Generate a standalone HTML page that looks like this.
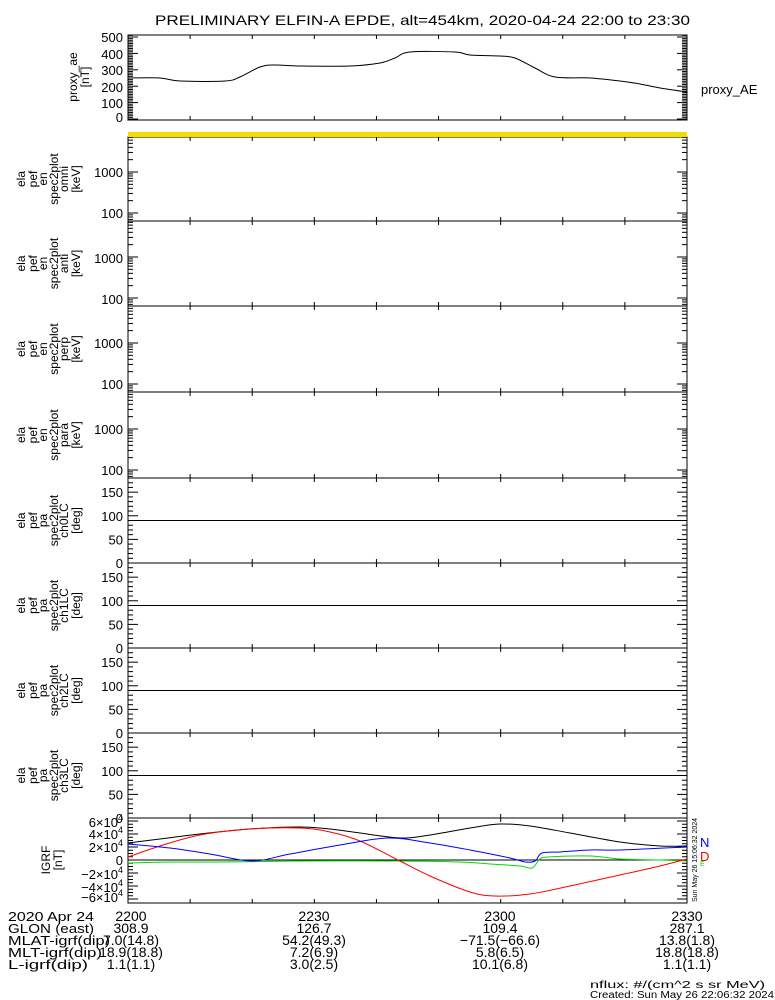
<!DOCTYPE html>
<html><head><meta charset="utf-8"><style>
body{margin:0;background:#fff}
svg{display:block}
text{font-family:"Liberation Sans",sans-serif;fill:#000}
</style></head><body>
<svg id="s" width="775" height="1000" viewBox="0 0 775 1000" xmlns="http://www.w3.org/2000/svg">
<text x="155" y="25" font-size="14" textLength="535" lengthAdjust="spacingAndGlyphs">PRELIMINARY ELFIN-A EPDE, alt=454km, 2020-04-24 22:00 to 23:30</text>
<g id="frames" fill="none" stroke="#000" stroke-width="1"></g>
<rect x="128" y="132" width="559" height="5" fill="#f5dc00"/>
<!-- AE -->
<polyline class="sm" fill="none" stroke="#000" stroke-width="1" points="128,78 160,78 180,81 225,81 240,77 260,67 275,65 300,66 350,66 380,63 395,58 410,52 455,52 470,55 500,56 515,58 535,68 555,77 590,78 620,81 640,84 660,88 687,92"/>
<g font-size="13" text-anchor="end">
<text x="123" y="42">500</text><text x="123" y="59">400</text><text x="123" y="75">300</text><text x="123" y="92">200</text><text x="123" y="108">100</text><text x="123" y="122">0</text>
<text x="123" y="177">1000</text><text x="123" y="218">100</text>
<text x="123" y="263">1000</text><text x="123" y="304">100</text>
<text x="123" y="348">1000</text><text x="123" y="389">100</text>
<text x="123" y="434">1000</text><text x="123" y="475">100</text>
</g>
<text x="701" y="94" font-size="13">proxy_AE</text>
<g id="pal" font-size="13" text-anchor="end"></g>
<g font-size="12" text-anchor="middle">
<text transform="translate(77,77) rotate(-90)">proxy_ae</text>
<text transform="translate(89,77) rotate(-90)">[nT]</text>
</g>
<g id="lbl" font-size="12" text-anchor="middle"></g>
<!-- IGRF -->
<line x1="128" y1="860" x2="687" y2="860" stroke="#000"/>
<polyline class="sm" fill="none" stroke="#0d0" points="128,863 170,862 220,862 300,861 397,861 460,862 490,864 520,866 532,868 540,859 548,857 590,856 620,859 660,860 687,861"/>
<polyline class="sm" fill="none" stroke="#000" points="128,843 160,839 200,834 250,829 300,827 330,829 360,833 400,838 430,835 470,828 500,824 530,826 570,833 620,842 660,846 687,846"/>
<polyline class="sm" fill="none" stroke="#f00" points="128,857 160,846 200,835 250,829 300,828 330,832 360,841 398,860 430,876 470,892 495,896 530,894 570,886 620,875 660,866 687,859"/>
<polyline class="sm" fill="none" stroke="#00f" points="128,844 170,848 210,854 252,861 290,854 340,845 388,838 430,843 470,850 510,858 525,862 535,861 542,853 560,852 590,850 620,850 687,847"/>
<g font-size="13" text-anchor="end">
<text x="123" y="827">6×10<tspan font-size="9" dy="-6">4</tspan></text>
<text x="123" y="839">4×10<tspan font-size="9" dy="-6">4</tspan></text>
<text x="123" y="852">2×10<tspan font-size="9" dy="-6">4</tspan></text>
<text x="123" y="865">0</text>
<text x="123" y="879">−2×10<tspan font-size="9" dy="-6">4</tspan></text>
<text x="123" y="892">−4×10<tspan font-size="9" dy="-6">4</tspan></text>
<text x="123" y="902">−6×10<tspan font-size="9" dy="-6">4</tspan></text>
</g>
<g font-size="12" text-anchor="middle">
<text transform="translate(50,860) rotate(-90)">IGRF</text>
<text transform="translate(62,860) rotate(-90)">[nT]</text>
</g>
<text transform="translate(697,902) rotate(-90)" font-size="7">Sun May 26 15:06:32 2024</text>
<text x="700" y="847" font-size="13" style="fill:#00f">N</text>
<text x="700" y="861" font-size="13" style="fill:#f00">D</text>
<text x="700" y="866" font-size="7" style="fill:#0d0">E</text>
<!-- bottom -->
<g font-size="13">
<text x="8" y="921" textLength="86" lengthAdjust="spacingAndGlyphs">2020 Apr 24</text>
<text x="8" y="933" textLength="86" lengthAdjust="spacingAndGlyphs">GLON (east)</text>
<text x="8" y="945" textLength="102" lengthAdjust="spacingAndGlyphs">MLAT-igrf(dip)</text>
<text x="8" y="957" textLength="94" lengthAdjust="spacingAndGlyphs">MLT-igrf(dip)</text>
<text x="8" y="969" textLength="80" lengthAdjust="spacingAndGlyphs">L-igrf(dip)</text>
</g>
<g font-size="14" text-anchor="middle">
<text x="131" y="921">2200</text><text x="131" y="933">308.9</text><text x="131" y="945">7.0(14.8)</text><text x="131" y="957">18.9(18.8)</text><text x="131" y="969">1.1(1.1)</text>
<text x="314" y="921">2230</text><text x="314" y="933">126.7</text><text x="314" y="945">54.2(49.3)</text><text x="314" y="957">7.2(6.9)</text><text x="314" y="969">3.0(2.5)</text>
<text x="500" y="921">2300</text><text x="500" y="933">109.4</text><text x="500" y="945">−71.5(−66.6)</text><text x="500" y="957">5.8(6.5)</text><text x="500" y="969">10.1(6.8)</text>
<text x="687" y="921">2330</text><text x="687" y="933">287.1</text><text x="687" y="945">13.8(1.8)</text><text x="687" y="957">18.8(18.8)</text><text x="687" y="969">1.1(1.1)</text>
</g>
<text x="590" y="988" font-size="10" textLength="175" lengthAdjust="spacingAndGlyphs">nflux: #/(cm^2 s sr MeV)</text>
<text x="590" y="998" font-size="10" textLength="184" lengthAdjust="spacingAndGlyphs">Created: Sun May 26 22:06:32 2024</text>
</svg>
<script>
var NS="http://www.w3.org/2000/svg",f=document.getElementById('frames');
function L(x1,y1,x2,y2,p){var e=document.createElementNS(NS,'line');e.setAttribute('x1',x1);e.setAttribute('y1',y1);e.setAttribute('x2',x2);e.setAttribute('y2',y2);(p||f).appendChild(e);}
function T(p,x,y,s,a){var e=document.createElementNS(NS,'text');e.setAttribute('x',x);e.setAttribute('y',y);if(a)e.setAttribute('transform',a);e.textContent=s;p.appendChild(e);}
var X0=128,X1=687;
function frame(t,b){var r=document.createElementNS(NS,'rect');r.setAttribute('x',X0);r.setAttribute('y',t);r.setAttribute('width',X1-X0);r.setAttribute('height',b-t);f.appendChild(r);
for(var i=1;i<9;i++){var x=X0+i*(X1-X0)/9;L(x,t,x,t+4);L(x,b,x,b-4);}}
function yt(y,len){L(X0,y,X0+len,y);L(X1,y,X1-len,y);}
frame(35,120);for(var v=0;v<=520;v+=10){var y=119-v*0.164;if(y>35)yt(y,v%100==0?10:5);}
var sp=[[137,221],[221,306],[306,392],[392,478]];
sp.forEach(function(p){frame(p[0],p[1]);var y100=p[1]-8,dec=41;
for(var d=-1;d<3;d++)for(var k=1;k<10;k++){var y=y100-(d+Math.log10(k))*dec;if(y>p[0]&&y<p[1])yt(y,k==1?10:5);}});
var pa=[[478,563],[563,648],[648,733],[733,818]],g=document.getElementById('pal');
pa.forEach(function(p){frame(p[0],p[1]);var h=p[1]-p[0];L(X0,p[1]-h/2,X1,p[1]-h/2);
for(var v=0;v<=180;v+=10){var y=p[1]-v*h/180;yt(y,v%50==0?10:5);}
[150,100,50,0].forEach(function(v){T(g,123,p[1]-v*h/180+5,String(v));});});
frame(818,903);for(var v=-60000;v<=60000;v+=5000){var y=860-v*6.5/10000;yt(y,v%20000==0?10:5);}
var lb=document.getElementById('lbl'),xs=[25,37,47,58,68,80];
var names=['omni','anti','perp','para'];
sp.forEach(function(p,i){var c=(p[0]+p[1])/2;['ela','pef','en','spec2plot',names[i],'[keV]'].forEach(function(s,j){T(lb,0,0,s,'translate('+xs[j]+','+c+') rotate(-90)');});});
pa.forEach(function(p,i){var c=(p[0]+p[1])/2;['ela','pef','pa','spec2plot','ch'+i+'LC','[deg]'].forEach(function(s,j){T(lb,0,0,s,'translate('+xs[j]+','+c+') rotate(-90)');});});
// smooth polylines (Catmull-Rom)
document.querySelectorAll('polyline.sm').forEach(function(pl){
var pts=pl.getAttribute('points').trim().split(/\s+/).map(function(s){return s.split(',').map(Number);});
var d='M'+pts[0][0]+','+pts[0][1];
for(var i=0;i<pts.length-1;i++){var p0=pts[i-1]||pts[i],p1=pts[i],p2=pts[i+1],p3=pts[i+2]||p2;
var c1=[p1[0]+(p2[0]-p0[0])/6,p1[1]+(p2[1]-p0[1])/6],c2=[p2[0]-(p3[0]-p1[0])/6,p2[1]-(p3[1]-p1[1])/6];
d+=' C'+c1+' '+c2+' '+p2;}
var e=document.createElementNS(NS,'path');e.setAttribute('d',d);e.setAttribute('fill','none');e.setAttribute('stroke',pl.getAttribute('stroke'));
pl.parentNode.replaceChild(e,pl);});
</script>
</body></html>
